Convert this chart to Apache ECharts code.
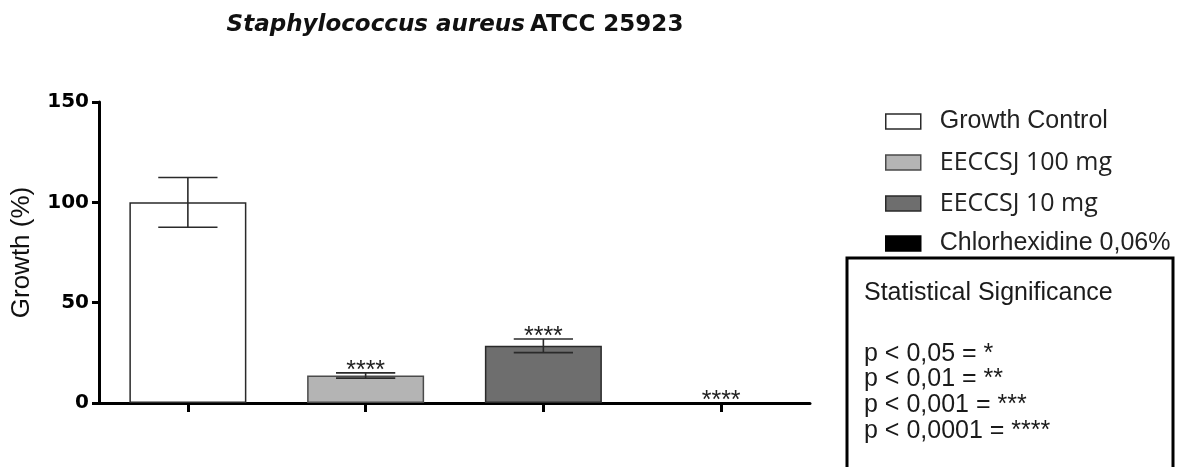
<!DOCTYPE html>
<html>
<head>
<meta charset="utf-8">
<script src="https://cdn.jsdelivr.net/npm/echarts@6/dist/echarts.min.js"></script>
<style>
  html, body { margin: 0; padding: 0; background: #ffffff; }
  #chart { width: 1182px; height: 467px; }
</style>
</head>
<body>
<div id="chart"></div>
<script>
// Growth (%) of S. aureus per treatment, mean ± error
const categories = ['Growth Control', 'EECCSJ 100 mg', 'EECCSJ 10 mg', 'Chlorhexidine 0,06%'];
const means = [100, 13.7, 28.5, 0];
const errors = [12.4, 1.3, 3.4, 0];
const significance = ['', '****', '****', '****'];
const yTicks = [0, 50, 100, 150];
const significanceKey = ['p < 0,05 = *', 'p < 0,01 = **', 'p < 0,001 = ***', 'p < 0,0001 = ****'];

const fills = ['#ffffff', '#b4b4b4', '#6e6e6e', '#000000'];
const borders = ['#2a2a2a', '#4a4a4a', '#2a2a2a', '#000000'];
const legendTops = [109, 150, 191, 231];
const legendFonts = ['Liberation Sans', 'Open Sans', 'Open Sans', 'Liberation Sans'];
const legendTextPad = [[0, 0, 0, 14], [12, 0, 0, 14], [0, 0, 0, 14], [4, 0, 0, 14]];

const chart = echarts.init(document.getElementById('chart'), null, { renderer: 'canvas' });

const barSeries = categories.map((name, i) => ({
  type: 'bar',
  name: name,
  barWidth: 117,
  barGap: '-100%',
  data: categories.map((c, j) => (j === i ? means[j] : '-')),
  itemStyle: { color: fills[i], borderColor: borders[i], borderWidth: 1.5 },
  emphasis: { disabled: true },
  z: 2
}));

const errorSeries = {
  type: 'custom',
  name: 'error',
  z: 10,
  data: categories.map((c, i) => [i, means[i], errors[i]]),
  renderItem: function (params, api) {
    const i = api.value(0);
    const m = api.value(1);
    const e = api.value(2);
    const top = api.coord([i, m + e]);
    const bot = api.coord([i, m - e]);
    const half = api.size([1, 0])[0] / 6;
    const stroke = { stroke: '#2a2a2a', lineWidth: 1.6 };
    const children = [];
    if (e > 0) {
      children.push({ type: 'line', shape: { x1: top[0], y1: top[1], x2: bot[0], y2: bot[1] }, style: stroke });
      children.push({ type: 'line', shape: { x1: top[0] - half, y1: top[1], x2: top[0] + half, y2: top[1] }, style: stroke });
      children.push({ type: 'line', shape: { x1: bot[0] - half, y1: bot[1], x2: bot[0] + half, y2: bot[1] }, style: stroke });
    }
    const sig = significance[params.dataIndex];
    if (sig) {
      children.push({
        type: 'text',
        style: {
          text: sig, x: top[0], y: top[1] - 2,
          align: 'center', verticalAlign: 'middle',
          font: '25px "Liberation Sans"', fill: '#222'
        }
      });
    }
    return { type: 'group', children: children };
  }
};

const keyTexts = [{ text: 'Statistical Significance', y: 293 }].concat(
  significanceKey.map((t, k) => ({ text: t, y: [354, 379, 405, 431][k] }))
);

const option = {
  animation: false,
  backgroundColor: '#ffffff',
  title: {
    text: '{i|Staphylococcus aureus} {b|ATCC 25923}',
    left: 455,
    top: 14,
    padding: 0,
    textAlign: 'center',
    textStyle: {
      rich: {
        i: { fontFamily: 'DejaVu Sans', fontWeight: 'bold', fontStyle: 'italic', fontSize: 23, color: '#111' },
        b: { fontFamily: 'DejaVu Sans', fontWeight: 'bold', fontSize: 23, color: '#111' }
      }
    }
  },
  legend: categories.map((name, i) => ({
    data: [name],
    left: 885,
    top: legendTops[i],
    padding: 0,
    icon: 'rect',
    itemWidth: 35,
    itemHeight: 15,
    selectedMode: false,
    itemStyle: { borderWidth: 1.5 },
    textStyle: {
      fontFamily: legendFonts[i],
      fontSize: 25,
      color: '#222',
      padding: legendTextPad[i]
    }
  })),
  grid: { left: 99, right: 372, top: 102, bottom: 64, containLabel: false },
  xAxis: {
    type: 'category',
    data: categories,
    axisLine: { show: true, lineStyle: { color: '#000', width: 3 } },
    axisTick: { show: true, alignWithLabel: true, length: 9, lineStyle: { color: '#000', width: 3 } },
    axisLabel: { show: false },
    splitLine: { show: false }
  },
  yAxis: {
    type: 'value',
    min: yTicks[0],
    max: yTicks[yTicks.length - 1],
    interval: yTicks[1] - yTicks[0],
    name: 'Growth (%)',
    nameLocation: 'middle',
    nameGap: 64,
    nameTextStyle: { fontFamily: 'Liberation Sans', fontSize: 26, color: '#111' },
    axisLine: { show: true, lineStyle: { color: '#000', width: 3 } },
    axisTick: { show: true, length: 7, lineStyle: { color: '#000', width: 3 } },
    axisLabel: { fontFamily: 'DejaVu Sans', fontWeight: 'bold', fontSize: 20, color: '#000', margin: 10 },
    splitLine: { show: false }
  },
  graphic: [
    {
      type: 'rect',
      shape: { x: 847, y: 258, width: 326, height: 240 },
      style: { fill: '#ffffff', stroke: '#000000', lineWidth: 3 },
      z: 1
    }
  ].concat(keyTexts.map(t => ({
    type: 'text',
    z: 2,
    style: {
      text: t.text, x: 864, y: t.y,
      verticalAlign: 'middle',
      font: '25px "Liberation Sans"', fill: '#1a1a1a'
    }
  }))),
  series: barSeries.concat([errorSeries])
};

chart.setOption(option);
</script>
</body>
</html>
